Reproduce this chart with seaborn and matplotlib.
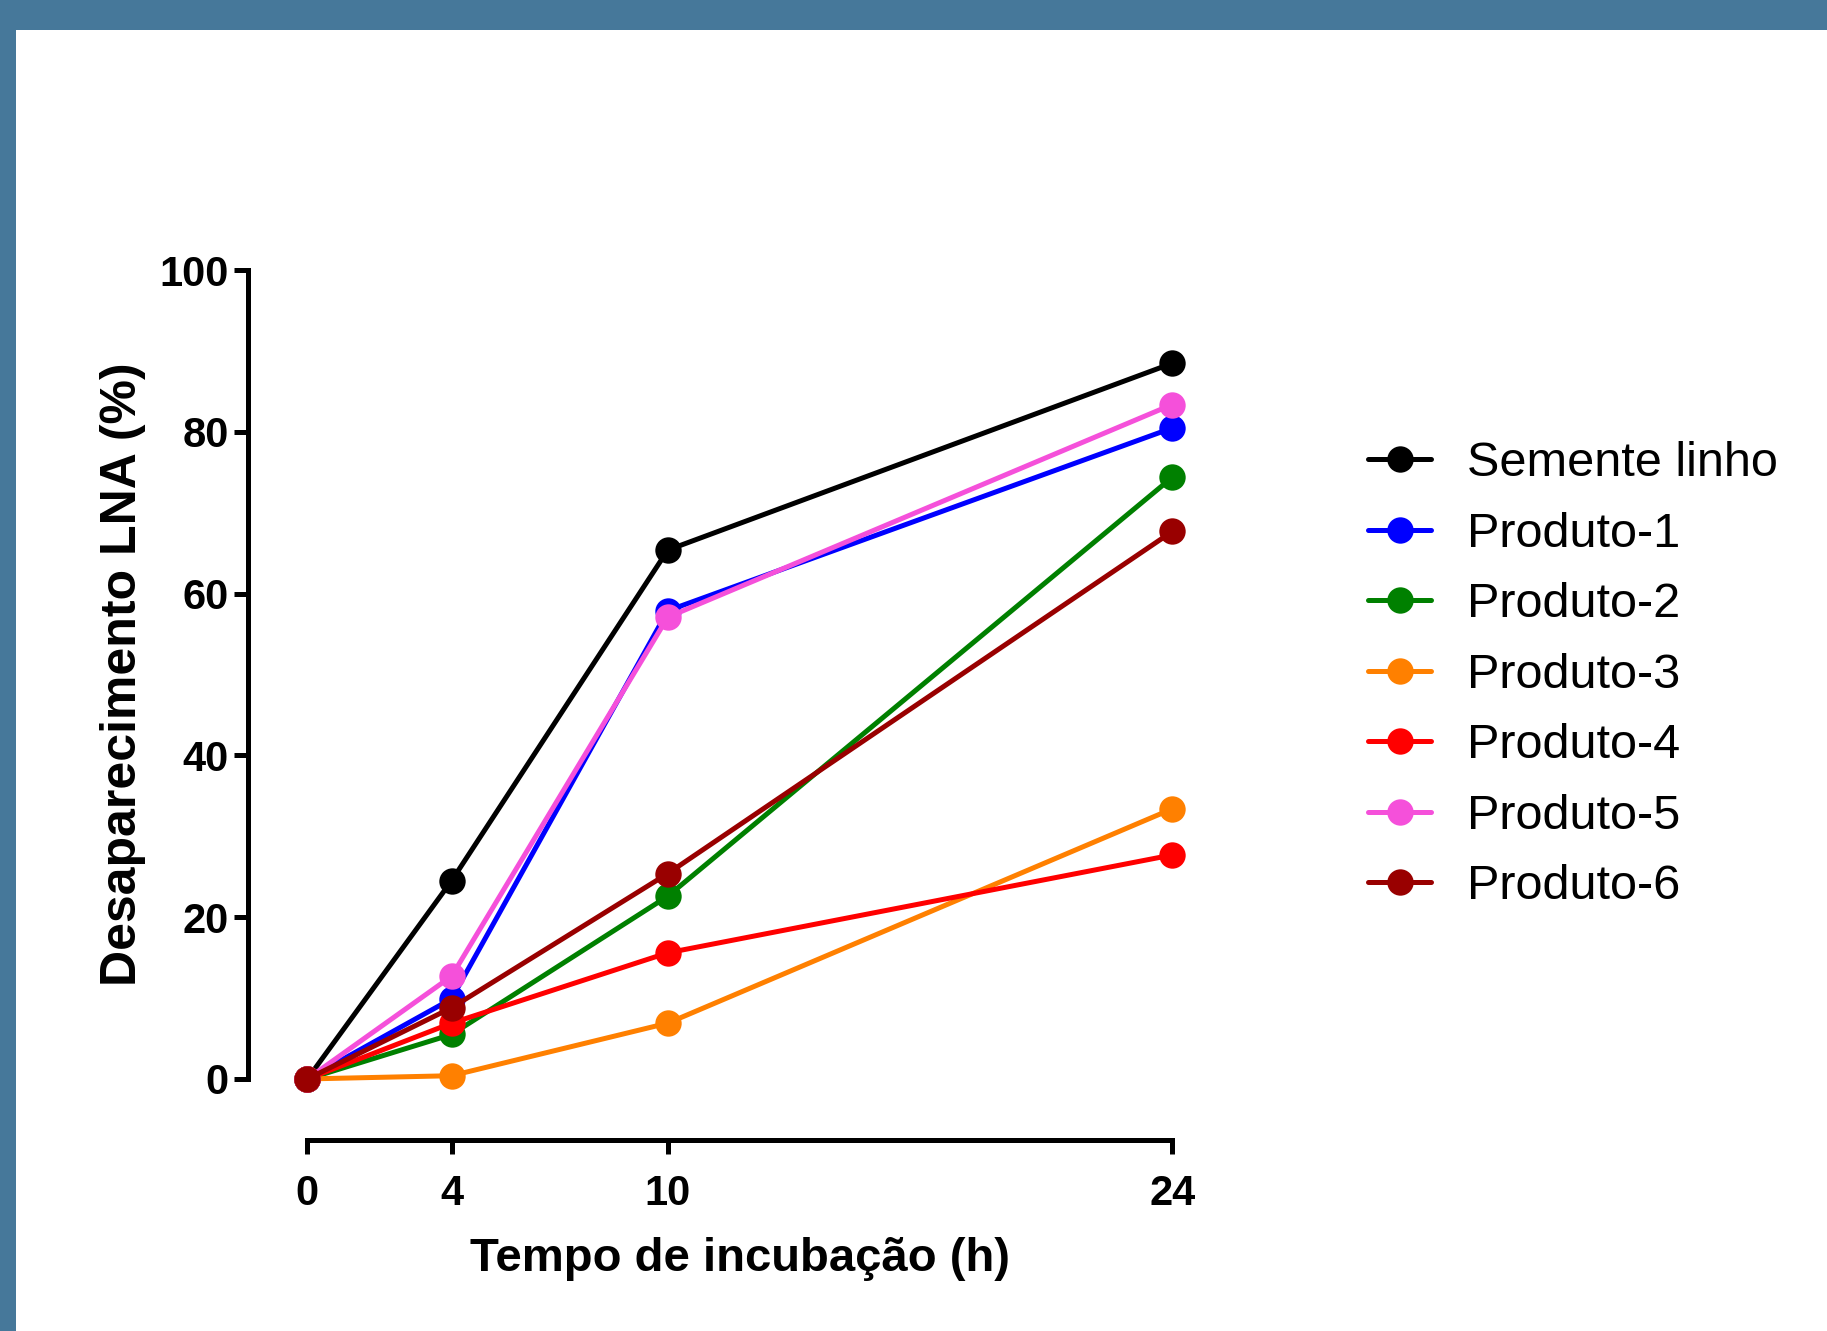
import pandas as pd
import seaborn as sns
import matplotlib.pyplot as plt
from matplotlib.patches import Rectangle

# dados
tempo = [0, 4, 10, 24]
semente_linho = [0, 24.5, 65.4, 88.5]
produto_1 = [0, 9.9, 57.9, 80.5]
produto_2 = [0, 5.5, 22.6, 74.4]
produto_3 = [0, 0.4, 6.9, 33.4]
produto_4 = [0, 6.9, 15.6, 27.7]
produto_5 = [0, 12.7, 57.1, 83.4]
produto_6 = [0, 8.8, 25.4, 67.7]

series = ['Semente linho', 'Produto-1', 'Produto-2', 'Produto-3',
          'Produto-4', 'Produto-5', 'Produto-6']
valores = [semente_linho, produto_1, produto_2, produto_3,
           produto_4, produto_5, produto_6]
cores = ['#000000', '#0000FF', '#008000', '#FF8000',
         '#FF0000', '#F550DA', '#990000']

df = pd.DataFrame({
    'tempo': tempo * len(series),
    'valor': [v for vals in valores for v in vals],
    'serie': [s for s in series for _ in tempo],
})

sns.set_style('ticks')
plt.rcParams['font.family'] = ['Liberation Sans', 'DejaVu Sans']
for k in ['text.color', 'axes.labelcolor', 'xtick.color', 'ytick.color', 'axes.edgecolor']:
    plt.rcParams[k] = 'black'

fig = plt.figure(figsize=(18.27, 13.31), dpi=100)
fig.patch.set_facecolor('#46789A')
fig.patches.append(Rectangle((16 / 1827, 0), 1 - 16 / 1827, 1 - 30 / 1331,
                             transform=fig.transFigure, facecolor='white',
                             edgecolor='none', zorder=-10))

ax = fig.add_axes([0.1359, 0.1438, 0.6535 - 0.1359, 0.8091 - 0.1438])
ax.set_facecolor('none')

sns.lineplot(data=df, x='tempo', y='valor', hue='serie', hue_order=series,
             palette=cores, marker='o', markersize=19, markeredgewidth=0,
             linewidth=3.6, errorbar=None, legend=False, ax=ax)

xmin, xmax = -1.64, 24.6
ymin, ymax = -7.5, 102
ax.set_xlim(xmin, xmax)
ax.set_ylim(ymin, ymax)
ax.set_xticks(tempo)
ax.set_yticks([0, 20, 40, 60, 80, 100])
sns.despine(ax=ax)
ax.spines['left'].set_bounds(0, 100)
ax.spines['bottom'].set_bounds(0, 24)
for s in ['left', 'bottom']:
    ax.spines[s].set_linewidth(3.6)
ax.tick_params(axis='both', width=3.6, length=10, labelsize=30)
ax.tick_params(axis='x', pad=15)
ax.tick_params(axis='y', pad=4)
for lab in ax.get_xticklabels() + ax.get_yticklabels():
    lab.set_fontweight('bold')

ax.set_xlabel('Tempo de incubação (h)', fontsize=34, fontweight='bold', labelpad=16)
ax.set_ylabel('Desaparecimento LNA (%)', fontsize=36, fontweight='bold', labelpad=10)
# títulos centrados nos eixos desenhados (não na área toda)
ax.xaxis.label.set_x((12 - xmin) / (xmax - xmin))
ax.yaxis.label.set_y((50 - ymin) / (ymax - ymin))

leg = fig.legend(handles=ax.lines[:len(series)], labels=series, loc='upper left',
                 bbox_to_anchor=(0.7488, 0.6685), frameon=False, fontsize=35,
                 handlelength=1.3, handletextpad=0.74, labelspacing=0.525,
                 borderpad=0, borderaxespad=0)

plt.savefig('out.png', dpi=100)
